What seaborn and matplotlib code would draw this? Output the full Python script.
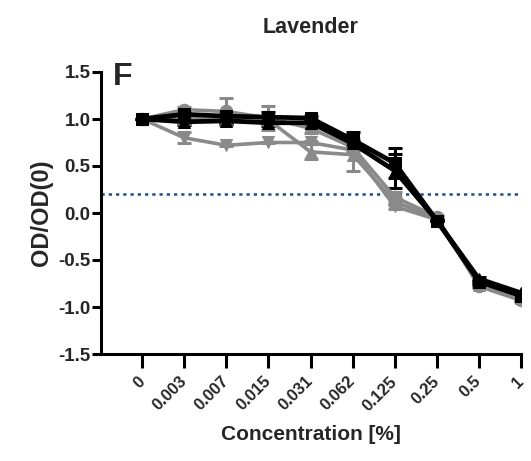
import numpy as np
import pandas as pd
import matplotlib
matplotlib.use("Agg")
import matplotlib.pyplot as plt
import seaborn as sns

sns.set_theme(style="ticks")
plt.rcParams['font.family'] = ['Liberation Sans', 'DejaVu Sans']
plt.rcParams['font.weight'] = 'bold'

categories = ["0", "0.003", "0.007", "0.015", "0.031", "0.062", "0.125", "0.25", "0.5", "1"]

gray_circle = [1.00, 1.10, 1.08, 1.01, 0.90, 0.70, 0.17, -0.04, -0.78, -0.93]
gray_circle_err = [0.00, 0.03, 0.14, 0.13, 0.05, 0.03, 0.05, 0.02, 0.02, 0.02]
gray_invtri = [1.00, 0.80, 0.72, 0.75, 0.75, 0.67, 0.07, -0.07, -0.76, -0.92]
gray_invtri_err = [0.00, 0.06, 0.01, 0.01, 0.02, 0.02, 0.03, 0.01, 0.02, 0.02]
gray_tri = [1.00, 1.00, 1.00, 0.99, 0.65, 0.62, 0.12, -0.06, -0.77, -0.90]
gray_tri_err = [0.00, 0.02, 0.02, 0.02, 0.08, 0.17, 0.04, 0.01, 0.02, 0.02]
black_square = [1.00, 1.05, 1.03, 1.02, 1.01, 0.78, 0.53, -0.08, -0.73, -0.88]
black_square_err = [0.00, 0.02, 0.02, 0.05, 0.02, 0.08, 0.16, 0.01, 0.02, 0.02]
black_tri = [1.00, 0.97, 0.98, 0.96, 0.96, 0.74, 0.45, -0.08, -0.70, -0.85]
black_tri_err = [0.00, 0.03, 0.03, 0.03, 0.02, 0.03, 0.18, 0.01, 0.02, 0.02]
threshold = 0.2

x = np.arange(len(categories))

fig = plt.figure(figsize=(5.31, 4.61), dpi=100)
ax = fig.add_axes([101/531, 1-354/461, 420/531, 282/461])

GRAY = "#8a8a8a"
series = [
    (gray_circle, gray_circle_err, GRAY, "o", 2.6),
    (gray_invtri, gray_invtri_err, GRAY, "v", 2.6),
    (gray_tri, gray_tri_err, GRAY, "^", 2.6),
    (black_square, black_square_err, "black", "s", 3.4),
    (black_tri, black_tri_err, "black", "^", 3.4),
]
for vals, err, col, mk, lw in series:
    ax.errorbar(x, vals, yerr=err, fmt="none", ecolor=col, elinewidth=2.2,
                capsize=5, capthick=2.2, zorder=2)
    df = pd.DataFrame({"x": x, "y": vals})
    sns.lineplot(data=df, x="x", y="y", ax=ax, color=col, marker=mk,
                 markersize=9, markeredgecolor=col, linewidth=lw, zorder=3)

ax.axhline(threshold, color="#1d4e89", linestyle=(0, (1.3, 1.6)), linewidth=1.8, zorder=1)

ax.set_xlim(-0.98, 9)
ax.set_ylim(-1.5, 1.5)
ax.set_yticks([-1.5, -1.0, -0.5, 0.0, 0.5, 1.0, 1.5])
ax.set_yticklabels(["-1.5", "-1.0", "-0.5", "0.0", "0.5", "1.0", "1.5"],
                   fontsize=13.5, fontweight="bold")
ax.set_xticks(x)
ax.set_xticklabels(categories, rotation=45, ha="right", va="center",
                   rotation_mode="anchor", fontsize=12, fontweight="bold")

for s in ["top", "right"]:
    ax.spines[s].set_visible(False)
for s in ["left", "bottom"]:
    ax.spines[s].set_linewidth(2.2)
    ax.spines[s].set_color("black")
ax.tick_params(axis="y", length=6.5, width=2.2, color="black", pad=1)
ax.tick_params(axis="x", length=10, width=2.2, color="black", pad=8)

ax.set_xlabel("Concentration [%]", fontsize=15, fontweight="bold", labelpad=8)
ax.set_ylabel("OD/OD(0)", fontsize=17, fontweight="bold", labelpad=4)
ax.set_title("Lavender", fontsize=15.5, fontweight="bold", pad=28)
fig.text(113/531, 1-85/461, "F", fontsize=23, fontweight="bold", ha="left", va="baseline")

fig.savefig("out.png", dpi=100)
